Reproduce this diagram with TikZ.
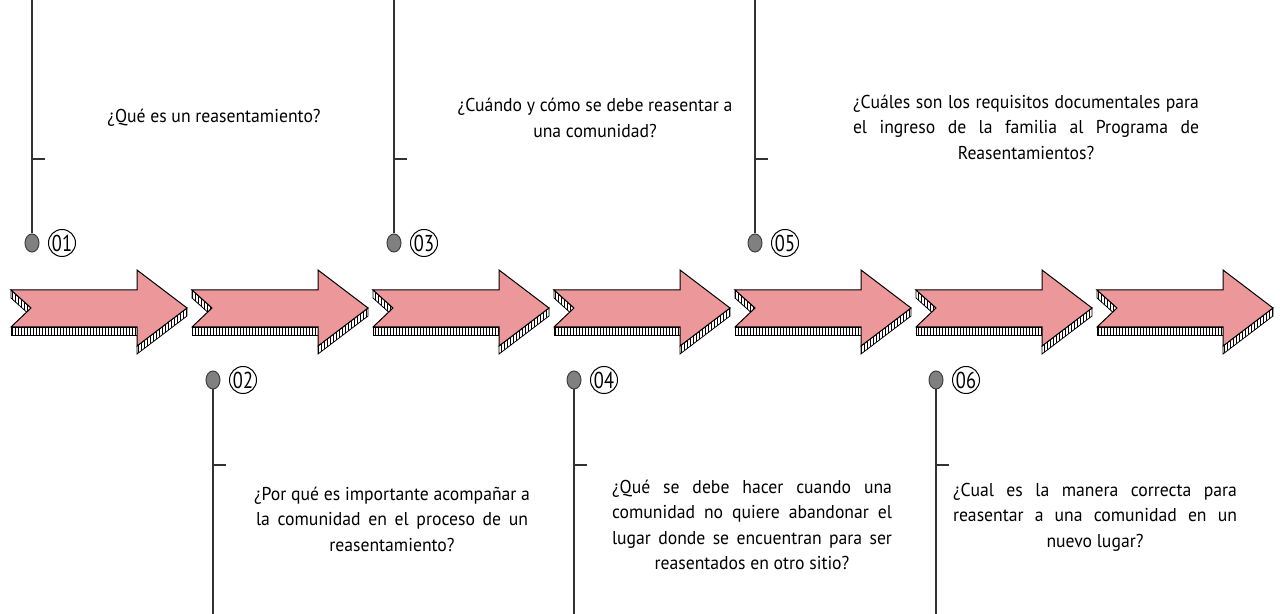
\documentclass[tikz,border=0pt]{standalone}
\usepackage{fontspec}
\setmainfont{PT Sans}[FakeStretch=0.95]
\newfontfamily\numfont{PT Sans}[FakeStretch=0.8]
\usetikzlibrary{patterns.meta,shapes.geometric}
\definecolor{arrowpink}{RGB}{236,152,154}
\definecolor{dotgray}{RGB}{128,128,128}
% justified line, width given in pixels of the reference
\newlength\jlnat
\newcommand\jline[2]{\settowidth\jlnat{#2}%
  \ifdim\jlnat<\dimexpr #1pt/2\relax\makebox[\dimexpr #1pt/2\relax][s]{#2}\else#2\fi}
\tikzset{
  arrowface/.style={fill=arrowpink,draw=black,line width=0.5pt,line join=miter},
  arrowside/.style={draw=black,line width=0.4pt,
    pattern={Lines[angle=90,distance=1.5pt,line width=0.45pt]}},
  dotmark/.style={ellipse,fill=dotgray,draw=black!75,line width=0.5pt,
    minimum width=7pt,minimum height=9pt,inner sep=0pt},
  nummark/.style={circle,draw=black,line width=0.5pt,minimum size=13.5pt,
    inner sep=0pt,font=\numfont\fontsize{11.5}{12}\selectfont},
  stem/.style={draw=black!80,line width=0.6pt},
  qtext/.style={align=center,inner sep=0pt,
    font=\fontsize{9.3}{12.75}\selectfont}
}
\begin{document}
\begin{tikzpicture}[x=0.5pt,y=-0.5pt]
  \useasboundingbox (0,0) rectangle (1280,614);
  % arrows
  \foreach \i in {0,...,6}{
    \begin{scope}[xshift=\i*90.5pt+5.5pt]
      \draw[arrowside] (0,327) -- (126,327) -- (126,335) -- (0,335) -- cycle;
      \draw[arrowside] (176,308) -- (126,346) -- (126,354) -- (176,316) -- cycle;
      \draw[arrowside] (0,290) -- (20,308) -- (20,316) -- (0,298) -- cycle;
      \draw[arrowface] (0,290) -- (126,290) -- (126,270) -- (176,308)
        -- (126,346) -- (126,327) -- (0,327) -- (20,308) -- cycle;
    \end{scope}
  }
  % markers
  \foreach \n/\mx/\my/\ty/\ey in {01/32/243/159/0,03/394/243/159/0,05/755/243/159/0,
      02/213/380/465/614,04/574/380/465/614,06/936/380/465/614}{
    \node[dotmark] (d\n) at (\mx,\my) {};
    \node[nummark] (n\n) at (\mx+30,\my) {\n};
    \coordinate (e\n) at (\mx,\ey);
    \coordinate (k\n) at (\mx,\ty);
    \draw[stem] (d\n) -- (e\n);
    \draw[stem] (k\n) -- ++(13,0);
  }
  % questions
  \node[qtext] (q01) at (214,118) {¿Qué es un reasentamiento?};
  \node[qtext] (q03) at (595,118) {\jline{266}{¿Cuándo y cómo se debe reasentar a}\\
    una comunidad?};
  \node[qtext] (q05) at (1026,127) {\jline{346}{¿Cuáles son los requisitos documentales para}\\
    \jline{346}{el ingreso de la familia al Programa de}\\ Reasentamientos?};
  \node[qtext] (q02) at (392,519) {\jline{272}{¿Por qué es importante acompañar a}\\
    \jline{272}{la comunidad en el proceso de un}\\ reasentamiento?};
  \node[qtext] (q04) at (752,525) {\jline{280}{¿Qué se debe hacer cuando una}\\
    \jline{280}{comunidad no quiere abandonar el}\\
    \jline{280}{lugar donde se encuentran para ser}\\ reasentados en otro sitio?};
  \node[qtext] (q06) at (1095,517) {\jline{284}{¿Cual es la manera correcta para}\\
    \jline{284}{reasentar a una comunidad en un}\\ nuevo lugar?};
\end{tikzpicture}
\end{document}
